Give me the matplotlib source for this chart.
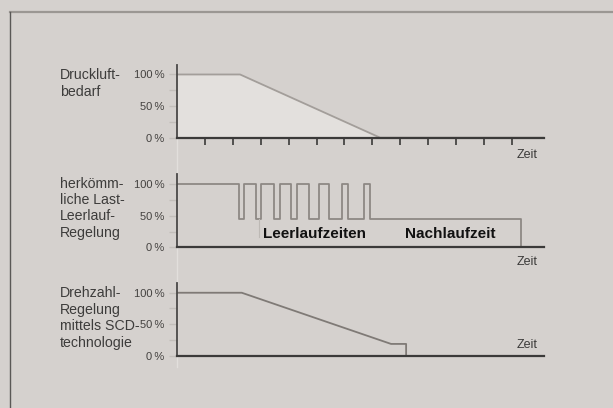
"""Drei Regelungsarten im Vergleich: Druckluftbedarf, Last-Leerlauf, Drehzahl."""

import matplotlib

matplotlib.use("Agg")
import matplotlib.pyplot as plt
from matplotlib.lines import Line2D

# --- data (time in tick units, load in percent) ---
demand_t = [0, 2.26, 7.28, 13.14]
demand_p = [100, 100, 0, 0]

# Last-Leerlauf: switching instants and levels (step after each instant)
loadidle_t = [0, 2.22, 2.40, 2.83, 3.01, 3.48, 3.69, 4.09, 4.30, 4.73,
              5.09, 5.45, 5.91, 6.13, 6.70, 6.92, 12.33]
loadidle_p = [100, 45, 100, 45, 100, 45, 100, 45, 100, 45,
              100, 45, 100, 45, 100, 45, 0]

scd_t = [0, 2.32, 7.67, 8.21, 8.21]
scd_p = [100, 100, 18.7, 18.7, 0]

ytick_vals = [0, 25, 50, 75, 100]
ytick_labels = ["0\u2009%", "", "50\u2009%", "", "100\u2009%"]
row_labels = [
    ["Druckluft-", "bedarf"],
    ["herkömm-", "liche Last-", "Leerlauf-", "Regelung"],
    ["Drehzahl-", "Regelung", "mittels SCD-", "technologie"],
]
phase_labels = ["Leerlaufzeiten", "Nachlaufzeit"]
xaxis_label = "Zeit"

BG = "#d5d1ce"
DARK = "#3b3a39"
FONT = "Liberation Sans"

W, H = 613, 408
fig = plt.figure(figsize=(W / 100, H / 100), dpi=100, facecolor=BG)


def px_box(left, top, right, bottom):
    return [left / W, 1 - bottom / H, (right - left) / W, (bottom - top) / H]


def style_axis(ax, top_pct):
    ax.set_facecolor("none")
    ax.set_xlim(0, 13.14)
    ax.set_ylim(0, top_pct)
    for side in ("top", "right"):
        ax.spines[side].set_visible(False)
    ax.spines["left"].set_color("#4a4847")
    ax.spines["left"].set_linewidth(1.3)
    ax.spines["bottom"].set_color(DARK)
    ax.spines["bottom"].set_linewidth(1.6)
    ax.set_yticks(ytick_vals)
    ax.set_yticklabels(ytick_labels)
    ax.tick_params(axis="y", length=6, width=1, color="#c2beba", pad=3,
                   labelsize=8, labelcolor="#444240")
    for lab in ax.get_yticklabels():
        lab.set_fontfamily(FONT)


# faint guide line through all three rows
fig.add_artist(Line2D([177 / W, 177 / W], [1 - 65 / H, 1 - 367 / H],
                      color="#e2dfdc", lw=1, zorder=0))
# frame
fig.add_artist(Line2D([10 / W, 1], [1 - 12 / H, 1 - 12 / H], color="#9b9793", lw=1.6))
fig.add_artist(Line2D([10 / W, 10 / W], [0, 1 - 12 / H], color="#5a5856", lw=1))

# --- row 1: demand ---
ax1 = fig.add_axes(px_box(177, 65, 543.7, 137.7))
style_axis(ax1, 115)
ax1.fill_between(demand_t, demand_p, 0, color="#e3e0dd", lw=0)
ax1.plot(demand_t, demand_p, color="#a39e9a", lw=1.3)
ax1.set_xticks(range(1, 13))
ax1.tick_params(axis="x", length=5, width=1.2, color=DARK, direction="out")
ax1.set_xticklabels([])
ax1.text(12.56, -27.5, xaxis_label, ha="center", va="center", fontsize=9,
         color=DARK, family=FONT)

# --- row 2: load / idle ---
ax2 = fig.add_axes(px_box(177, 174, 543.7, 247.3))
style_axis(ax2, 116)
ax2.step(loadidle_t, loadidle_p, where="post", color="#8d8884", lw=1.3)
ax2.plot([2.94, 2.94], [45, 16], color="#bdb9b5", lw=0.8)
ax2.set_xticks([])
ax2.text(4.91, 21, phase_labels[0], ha="center", va="center", fontsize=11,
         fontweight="bold", color="#111111", family=FONT)
ax2.text(9.78, 21, phase_labels[1], ha="center", va="center", fontsize=11,
         fontweight="bold", color="#111111", family=FONT)
ax2.text(12.56, -24, xaxis_label, ha="center", va="center", fontsize=9,
         color=DARK, family=FONT)

# --- row 3: SCD speed control ---
ax3 = fig.add_axes(px_box(177, 283.3, 543.7, 355.7))
style_axis(ax3, 115)
ax3.plot(scd_t, scd_p, color="#7f7a76", lw=1.3)
ax3.set_xticks([])
ax3.text(12.54, 17, xaxis_label, ha="center", va="center", fontsize=9,
         color=DARK, family=FONT)

# row labels on the left, one text per line
for lines, y_first, step in zip(row_labels, [75, 184, 293], [16.6, 16.2, 16.6]):
    for i, line in enumerate(lines):
        fig.text(60 / W, 1 - (y_first + i * step) / H, line, ha="left",
                 va="center", fontsize=10.2, color="#3d3c3b", family=FONT)

fig.savefig("out.png", dpi=100, facecolor=BG)
